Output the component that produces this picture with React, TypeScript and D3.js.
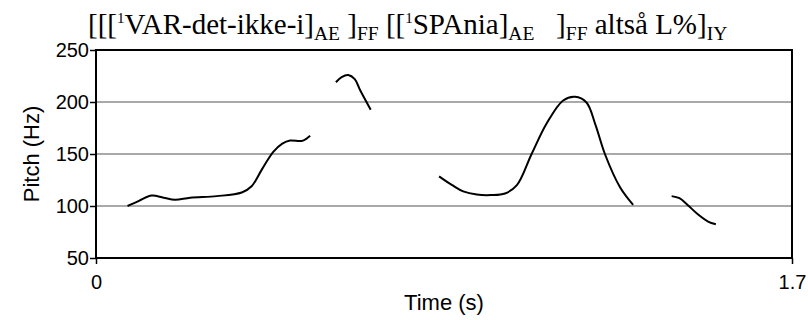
import { axisBottom, axisLeft, curveCatmullRom, line, scaleLinear, select } from "d3";
import { useEffect, useRef } from "react";

// pitch contour, one array pair per voiced stretch
const seg1Time = [0.077, 0.105, 0.136, 0.165, 0.193, 0.23, 0.295, 0.356, 0.38, 0.405, 0.433, 0.455, 0.474, 0.502, 0.515, 0.523];
const seg1Pitch = [100, 105, 110, 108, 106, 108, 109.5, 113, 119, 135, 152, 160, 163, 162.5, 165, 167.5];
const seg2Time = [0.586, 0.6, 0.616, 0.632, 0.645, 0.671];
const seg2Pitch = [219, 224, 226, 222, 211.5, 192.5];
const seg3Time = [0.838, 0.87, 0.897, 0.93, 0.965, 0.999, 1.028, 1.064, 1.101, 1.141, 1.17, 1.198, 1.22, 1.243, 1.28, 1.312];
const seg3Pitch = [128.5, 120, 114, 111, 110.5, 112, 120, 150, 179.5, 201.5, 205, 199.5, 178, 150, 118, 101];
const seg4Time = [1.406, 1.425, 1.445, 1.47, 1.495, 1.514];
const seg4Pitch = [109.5, 107.5, 101, 92, 85, 82.5];

const segments = [
  { time: seg1Time, pitch: seg1Pitch },
  { time: seg2Time, pitch: seg2Pitch },
  { time: seg3Time, pitch: seg3Pitch },
  { time: seg4Time, pitch: seg4Pitch },
];

const yTicks = [50, 100, 150, 200, 250];
const gridTicks = [100, 150, 200];
const xTicks = [0, 1.7];

const SANS = "Liberation Sans, Arial, sans-serif";

export default function App() {
  const svgRef = useRef<SVGSVGElement | null>(null);

  useEffect(() => {
    if (!svgRef.current) return;
    const svg = select(svgRef.current);
    svg.selectAll("*").remove();

    const left = 96;
    const right = 792;
    const top = 50;
    const bottom = 258;

    const xScale = scaleLinear().domain([0, 1.7]).range([left, right]);
    const yScale = scaleLinear().domain([50, 250]).range([bottom, top]);

    // grid
    svg
      .append("g")
      .selectAll("line")
      .data(gridTicks)
      .join("line")
      .attr("x1", left)
      .attr("x2", right)
      .attr("y1", (d) => yScale(d))
      .attr("y2", (d) => yScale(d))
      .attr("stroke", "#8c8c8c")
      .attr("stroke-width", 1.3);

    // frame
    svg
      .append("rect")
      .attr("x", left)
      .attr("y", top)
      .attr("width", right - left)
      .attr("height", bottom - top)
      .attr("fill", "none")
      .attr("stroke", "#000")
      .attr("stroke-width", 2);

    const yAxis = axisLeft(yScale).tickValues(yTicks).tickSize(6).tickFormat((d) => String(d));
    const yG = svg.append("g").attr("transform", `translate(${left},0)`).call(yAxis);
    yG.select(".domain").remove();
    yG.selectAll("line").attr("stroke", "#000").attr("stroke-width", 1.5);
    yG.selectAll("text")
      .attr("font-family", SANS)
      .attr("font-size", 20)
      .attr("fill", "#000")
      .attr("x", -7);

    const xAxis = axisBottom(xScale).tickValues(xTicks).tickSize(6).tickFormat((d) => String(d));
    const xG = svg.append("g").attr("transform", `translate(0,${bottom})`).call(xAxis);
    xG.select(".domain").remove();
    xG.selectAll("line").attr("stroke", "#000").attr("stroke-width", 1.5);
    xG.selectAll("text")
      .attr("font-family", SANS)
      .attr("font-size", 20)
      .attr("fill", "#000")
      .attr("y", 17);

    const gen = line<[number, number]>()
      .x((p) => p[0])
      .y((p) => p[1])
      .curve(curveCatmullRom.alpha(0.5));

    segments.forEach((seg) => {
      const pts = seg.time.map((t, i) => [xScale(t), yScale(seg.pitch[i])] as [number, number]);
      svg
        .append("path")
        .attr("d", gen(pts) ?? "")
        .attr("fill", "none")
        .attr("stroke", "#000")
        .attr("stroke-width", 2);
    });

    svg
      .append("text")
      .attr("x", (left + right) / 2)
      .attr("y", 310)
      .attr("text-anchor", "middle")
      .attr("font-family", SANS)
      .attr("font-size", 22)
      .text("Time (s)");

    svg
      .append("text")
      .attr("transform", `translate(39,${(top + bottom) / 2}) rotate(-90)`)
      .attr("text-anchor", "middle")
      .attr("font-family", SANS)
      .attr("font-size", 22)
      .text("Pitch (Hz)");

    // title with sub/superscripts
    const parts: Array<[string, "n" | "sup" | "sub"]> = [
      ["[[[", "n"],
      ["1", "sup"],
      ["VAR-det-ikke-i]", "n"],
      ["AE", "sub"],
      [" ]", "n"],
      ["FF", "sub"],
      [" [[", "n"],
      ["1", "sup"],
      ["SPAnia]", "n"],
      ["AE", "sub"],
      ["   ]", "n"],
      ["FF", "sub"],
      [" altså L%]", "n"],
      ["IY", "sub"],
    ];
    const title = svg
      .append("text")
      .attr("x", 88)
      .attr("y", 34)
      .attr("font-family", "Liberation Serif, Times New Roman, serif")
      .attr("font-size", 29)
      .style("white-space", "pre");
    parts.forEach(([txt, kind]) => {
      title
        .append("tspan")
        .attr("font-size", kind === "n" ? 29 : kind === "sub" ? 19.5 : 15)
        .attr("baseline-shift", kind === "sub" ? "-6" : kind === "sup" ? "11" : "0")
        .text(txt);
    });
  }, []);

  return (
    <svg
      ref={svgRef}
      width={808}
      height={320}
      style={{ position: "absolute", left: 0, top: 0, background: "#fff" }}
    />
  );
}
